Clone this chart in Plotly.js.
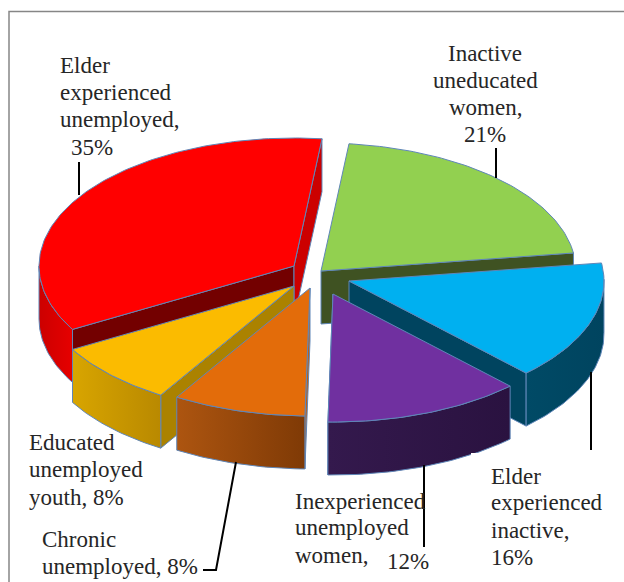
<!DOCTYPE html>
<html>
<head>
<meta charset="utf-8">
<script src="https://cdn.plot.ly/plotly-3.0.1.min.js"></script>
<style>html,body{margin:0;padding:0;background:#fff}#chart{width:624px;height:582px}</style>
</head>
<body>
<div id="chart"></div>
<script>
// Shares of each group, in percent, clockwise from the first slice
const categories = ["Inactive uneducated women", "Elder experienced inactive", "Inexperienced unemployed women",
                    "Chronic unemployed", "Educated unemployed youth", "Elder experienced unemployed"];
const shares = [21, 16, 12, 8, 8, 35];

// Slice styling, same order as the shares
const topColors  = ["#92D050", "#00B0F0", "#7030A0", "#E36C0A", "#FBBB00", "#FF0000"];
const rimLeft    = ["#3f5222", "#004a66", "#34194d", "#ad5510", "#d8a500", "#cc0000"];
const rimRight   = ["#3f5222", "#00445f", "#2a1240", "#7f3a06", "#b98900", "#e60000"];
const startWall  = [null, null, null, "#c26010", "#ab8200", "#730000"];
const endWall    = ["#3f5222", "#00445f", "#2d1540", null, null, "#cc0000"];

// Pie projection, in chart units
const startAngle = 6.3, radiusX = 255, radiusY = 128, depth = 53;
// Perspective squeeze on the near right of the pie, in degrees
const squeezeFrom = 82, squeezeTo = 200, squeezePeak = 3.5;
// Where each exploded slice's tip sits
const tipX = [321, 349, 333, 310, 294, 294];
const tipY = [271, 281, 294, 288, 286, 266];
// Painted back to front
const paintOrder = [5, 0, 1, 4, 3, 2];

const edge = {color: "#5f86b8", width: 1};
const rad = d => d * Math.PI / 180;

function viewAngle(deg) {
  if (deg <= squeezeFrom || deg >= squeezeTo) return deg;
  return deg - squeezePeak * Math.sin(Math.PI * (deg - squeezeFrom) / (squeezeTo - squeezeFrom));
}
function rimPoint(i, deg, drop) {
  const v = viewAngle(deg);
  return [tipX[i] + radiusX * Math.sin(rad(v)), tipY[i] - radiusY * Math.cos(rad(v)) + drop];
}
function arc(i, from, to, drop) {
  const pts = [], n = Math.max(2, Math.ceil(Math.abs(to - from)));
  for (let k = 0; k <= n; k++) pts.push(rimPoint(i, from + (to - from) * k / n, drop));
  return pts;
}
function polygon(pts, color, gradient) {
  const t = {
    type: "scatter", mode: "lines", x: pts.map(p => p[0]).concat(pts[0][0]), y: pts.map(p => p[1]).concat(pts[0][1]),
    fill: "toself", line: edge, hoverinfo: "skip", showlegend: false
  };
  if (gradient) t.fillgradient = {type: "horizontal", colorscale: [[0, gradient[0]], [1, gradient[1]]]};
  else t.fillcolor = color;
  return t;
}
function radialWall(i, deg, color) {
  const a = rimPoint(i, deg, 0), b = rimPoint(i, deg, depth);
  return polygon([[tipX[i], tipY[i]], a, b, [tipX[i], tipY[i] + depth]], color);
}

// Angular extent of every slice, from the shares
const total = shares.reduce((s, v) => s + v, 0);
const spans = [];
let running = startAngle;
shares.forEach(v => { const sweep = v / total * 360; spans.push([running, running + sweep]); running += sweep; });

const traces = [];
paintOrder.forEach(i => {
  const [from, to] = spans[i];
  if (startWall[i]) traces.push(radialWall(i, from, startWall[i]));
  if (endWall[i]) traces.push(radialWall(i, to, endWall[i]));
  // Only the front half of the rim faces the viewer
  const a = Math.max(from, 90), b = Math.min(to, 270);
  if (b > a) {
    const rim = arc(i, a, b, 0).concat(arc(i, b, a, depth));
    traces.push(polygon(rim, null, [rimLeft[i], rimRight[i]]));
  }
  const face = [[tipX[i], tipY[i]]].concat(arc(i, from, to, 0));
  traces.push(polygon(face, topColors[i]));
});

// Data labels, one entry per line of text
const labelFont = {family: "Liberation Serif, serif", size: 23, color: "#262626"};
const labels = [
  {text: "Elder", x: 59, y: 65, a: "left"},
  {text: "experienced", x: 59, y: 92, a: "left"},
  {text: "unemployed,", x: 59, y: 119, a: "left"},
  {text: shares[5] + "%", x: 92, y: 147, a: "center"},
  {text: "Inactive", x: 485, y: 53, a: "center"},
  {text: "uneducated", x: 485, y: 80, a: "center"},
  {text: "women,", x: 485, y: 107, a: "center"},
  {text: shares[0] + "%", x: 485, y: 134, a: "center"},
  {text: "Elder", x: 490, y: 476, a: "left"},
  {text: "experienced", x: 490, y: 502, a: "left"},
  {text: "inactive,", x: 490, y: 530, a: "left"},
  {text: shares[1] + "%", x: 490, y: 557, a: "left"},
  {text: "Inexperienced", x: 294, y: 501, a: "left"},
  {text: "unemployed", x: 294, y: 527, a: "left"},
  {text: "women,", x: 294, y: 555, a: "left"},
  {text: shares[2] + "%", x: 408, y: 561, a: "center"},
  {text: "Educated", x: 28, y: 442, a: "left"},
  {text: "unemployed", x: 28, y: 469, a: "left"},
  {text: "youth, " + shares[4] + "%", x: 28, y: 497, a: "left"},
  {text: "Chronic", x: 41, y: 539, a: "left"},
  {text: "unemployed, " + shares[3] + "%", x: 41, y: 566, a: "left"}
];
const annotations = labels.map(l => ({
  text: l.text, x: l.x, y: l.y, xref: "x", yref: "y", xanchor: l.a, yanchor: "middle",
  showarrow: false, font: labelFont, borderpad: 0
}));

const leader = (path) => ({type: "path", path, xref: "x", yref: "y", line: {color: "#000", width: 2}, layer: "above"});
const shapes = [
  // Chart frame, open at the right and bottom
  {type: "path", path: "M9,590 L9,11.5 L630,11.5", xref: "x", yref: "y", line: {color: "#868686", width: 1.5}, layer: "below"},
  // Label box that clips the corner of the purple rim
  {type: "rect", x0: 471, x1: 515, y0: 453, y1: 470, xref: "x", yref: "y", fillcolor: "#fff", line: {width: 0}, layer: "above"},
  // Leader lines
  leader("M79,162 L79,195"),
  leader("M496,148 L496,178"),
  leader("M591,372 L591,450"),
  leader("M424,465 L424,547"),
  leader("M236,462 L216,570 L203,570")
];

Plotly.newPlot("chart", traces, {
  width: 624, height: 582,
  margin: {l: 0, r: 0, t: 0, b: 0},
  paper_bgcolor: "#fff", plot_bgcolor: "#fff",
  showlegend: false,
  xaxis: {range: [0, 624], visible: false, fixedrange: true},
  yaxis: {range: [582, 0], visible: false, fixedrange: true},
  annotations, shapes
}, {displayModeBar: false, staticPlot: true});
</script>
</body>
</html>
